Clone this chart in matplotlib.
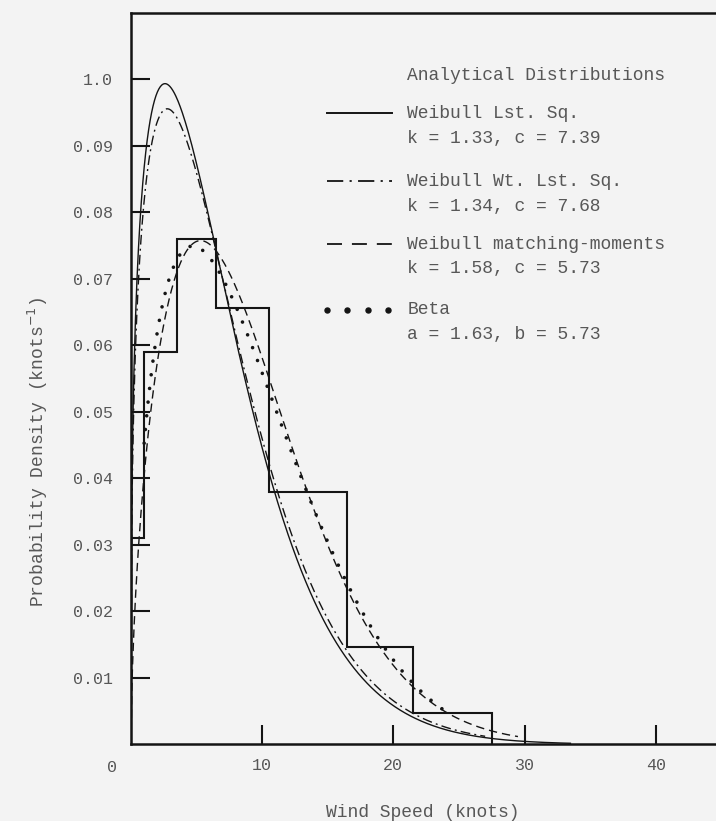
import math
import numpy as np
import matplotlib
matplotlib.use("Agg")
import matplotlib.pyplot as plt
from matplotlib.transforms import blended_transform_factory

# observed wind speed histogram (knots), probability density per bin
bin_edges = [0.0, 1.0, 3.5, 6.5, 10.5, 16.5, 21.5, 27.5]
bin_density = [0.031, 0.059, 0.076, 0.0656, 0.038, 0.0147, 0.0047]

# fitted distributions (k, c) and plotted speed range
weibull_ls = (1.33, 7.39)
weibull_wls = (1.34, 7.68)
weibull_mm = (1.58, 10.0)
beta_ab = (1.63, 5.73)
beta_span = 40.0

legend_labels = [
    ("Weibull Lst. Sq.", "k = 1.33, c = 7.39"),
    ("Weibull Wt. Lst. Sq.", "k = 1.34, c = 7.68"),
    ("Weibull matching-moments", "k = 1.58, c = 5.73"),
    ("Beta", "a = 1.63, b = 5.73"),
]

yticks = [0.01, 0.02, 0.03, 0.04, 0.05, 0.06, 0.07, 0.08, 0.09, 0.10]
ytick_labels = ["0.01", "0.02", "0.03", "0.04", "0.05", "0.06", "0.07", "0.08", "0.09", "1.0"]
xticks = [10, 20, 30, 40]


def weibull_pdf(v, k, c):
    return (k / c) * (v / c) ** (k - 1) * np.exp(-(v / c) ** k)


def beta_pdf(v, a, b, span):
    t = v / span
    lnB = math.lgamma(a) + math.lgamma(b) - math.lgamma(a + b)
    return t ** (a - 1) * (1 - t) ** (b - 1) / math.exp(lnB) / span


INK = "#141414"
TXT = "#575757"
BG = "#f3f3f3"
MONO = "Liberation Mono"

fig = plt.figure(figsize=(7.16, 8.21), dpi=100, facecolor=BG)
ax = fig.add_axes([0.183, 0.0933, 0.817, 0.8909])
ax.set_facecolor(BG)

ax.stairs(bin_density, bin_edges, color=INK, lw=1.5)

v1 = np.linspace(0.0, 33.5, 600)
ax.plot(v1, weibull_pdf(v1, *weibull_ls), color=INK, lw=1.0)

v2 = np.linspace(0.0, 27.0, 500)
ax.plot(v2, weibull_pdf(v2, *weibull_wls), color=INK, lw=1.0,
        dashes=(7.0, 3.0, 1.4, 3.0))

v3 = np.linspace(0.0, 29.5, 500)
ax.plot(v3, weibull_pdf(v3, *weibull_mm), color=INK, lw=1.0,
        dashes=(6.0, 3.6))

v4 = np.linspace(1.0, 24.0, 500)
ax.plot(v4, beta_pdf(v4, *beta_ab, beta_span), color=INK, lw=2.6,
        dashes=(0.01, 3.8), dash_capstyle="round")

ax.set_xlim(0, 44.6)
ax.set_ylim(0, 0.110)

for side in ("left", "bottom", "top"):
    ax.spines[side].set_linewidth(1.8)
    ax.spines[side].set_color(INK)
ax.spines["right"].set_visible(False)

ax.set_yticks(yticks)
ax.set_yticklabels(ytick_labels, fontfamily=MONO, fontsize=12, color=TXT)
ax.set_xticks(xticks)
ax.set_xticklabels([str(t) for t in xticks], fontfamily=MONO, fontsize=12, color=TXT)
ax.tick_params(axis="y", direction="in", length=14, width=1.5, color=INK, pad=13)
ax.tick_params(axis="x", direction="in", length=14, width=1.5, color=INK, pad=10)

trans = blended_transform_factory(ax.transData, ax.transAxes)
ax.text(-1.45, -0.032, "0", transform=trans, ha="center", va="center",
        fontfamily=MONO, fontsize=12, color=TXT, clip_on=False)

ax.text(0.499, -0.093, "Wind Speed (knots)", transform=ax.transAxes,
        ha="center", va="center", fontfamily=MONO, fontsize=13, color=TXT)
fig.text(38 / 716, 1 - 452 / 821, "Probability Density (knots$^{-1}$)",
         rotation=90, ha="center", va="center", fontfamily=MONO,
         fontsize=13, color=TXT)

# key to the line styles
ax.text(0.472, 0.915, "Analytical Distributions", transform=ax.transAxes,
        ha="left", va="center", fontfamily=MONO, fontsize=13, color=TXT)
row_y = [0.863, 0.770, 0.684, 0.594]
hx0, hx1, tx = 0.335, 0.446, 0.472
sample_styles = [
    dict(lw=1.4),
    dict(lw=1.3, dashes=(9, 3.5, 1.2, 3.5)),
    dict(lw=1.3, dashes=(8.3, 5.5)),
]
for i, (name, params) in enumerate(legend_labels):
    y = row_y[i]
    if i < 3:
        ax.plot([hx0, hx1], [y, y], color=INK, transform=ax.transAxes,
                **sample_styles[i])
    else:
        ax.plot(np.linspace(hx0, hx1 - 0.006, 4), [y] * 4, "o", ms=3.6,
                color=INK, transform=ax.transAxes)
    ax.text(tx, y, name, transform=ax.transAxes, ha="left", va="center",
            fontfamily=MONO, fontsize=13, color=TXT)
    ax.text(tx, y - 0.034, params, transform=ax.transAxes, ha="left",
            va="center", fontfamily=MONO, fontsize=13, color=TXT)

fig.savefig("out.png", dpi=100, facecolor=BG)
